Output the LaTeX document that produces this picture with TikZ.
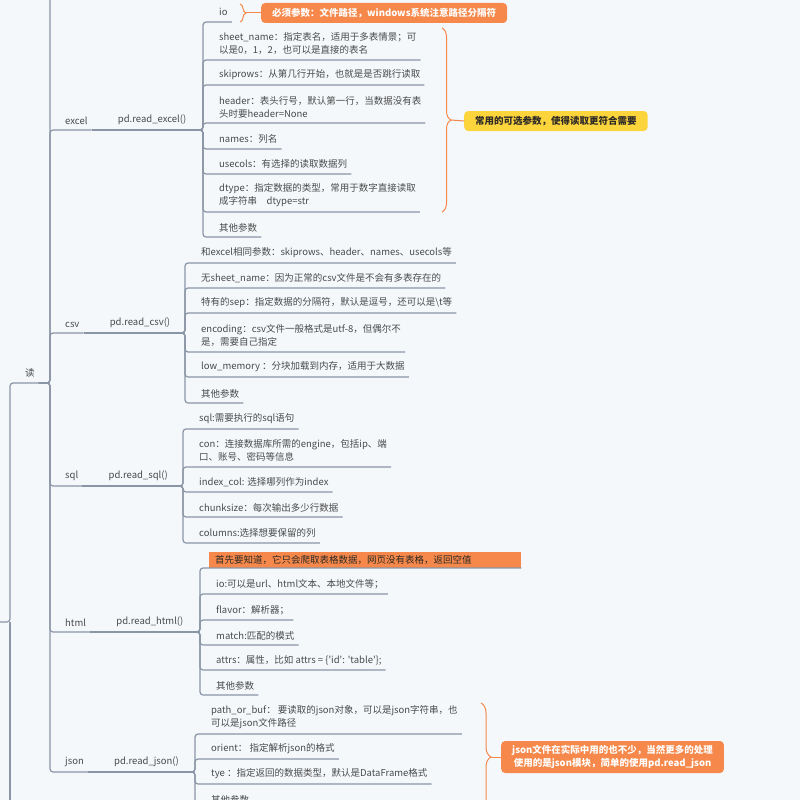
\documentclass[tikz,border=0pt]{standalone}
\usepackage{fontspec}
\setmainfont{Noto Sans CJK SC}
\usetikzlibrary{positioning,decorations.pathreplacing}

\definecolor{bgblue}{HTML}{F4F8FB}
\definecolor{linegray}{HTML}{8A95A5}
\definecolor{txtgray}{HTML}{4A4A4A}
\definecolor{notedark}{HTML}{2E2A26}
\definecolor{noteorange}{HTML}{F5884A}
\definecolor{noteyellow}{HTML}{FCD43C}

\begin{document}
\begin{tikzpicture}[%
          x=1pt, y=-1pt,
          link/.style={draw=linegray, line width=1.2pt, rounded corners=3pt},
          notelink/.style={draw=noteorange, line width=1pt},
          bracket/.style={draw=noteorange, line width=1pt, decorate,
                          decoration={brace, amplitude=#1}},
          topic/.style={anchor=south west, inner xsep=4pt, inner ysep=5pt,
                        align=left, text=txtgray,
                        font=\fontsize{9.5}{13}\selectfont},
          callout/.style={anchor=west, rounded corners=4pt, fill=noteorange,
                          text=white, align=center, inner xsep=11pt,
                          inner ysep=3pt,
                          font=\fontsize{9.5}{13}\selectfont\bfseries}]

  \useasboundingbox (0,0) rectangle (800,800);
  \fill[bgblue] (0,0) rectangle (800,800);
  \clip (0,0) rectangle (800,800);

  \coordinate (rootE) at (-5,622);
  \coordinate (vroot) at (10,0);
  \coordinate (offB) at (10,810);
  \coordinate (vtrunk) at (50,0);
  \coordinate (offT) at (50,-10);

  \coordinate (vexcel) at (203,0);
  \coordinate (vcsv) at (185,0);
  \coordinate (vsql) at (183,0);
  \coordinate (vhtml) at (200,0);
  \coordinate (vjson) at (195,0);

  \node[topic] (du) at (21,383) {读};

  % excel
  \node[topic] (excel) at (61,130) {excel};
  \node[topic, right=22pt of excel.south east, anchor=south west] (rexcel) {pd.read\_excel()};

  \node[topic, text depth=1.2pt] (io) at (215,22) {io};
  \node[topic] (sheetname) at (215,60) {sheet\_name：指定表名，适用于多表情景；可\\以是0，1，2，也可以是直接的表名};
  \node[topic] (skiprows) at (215,85) {skiprows：从第几行开始，也就是是否跳行读取};
  \node[topic] (header) at (215,123) {header：表头行号，默认第一行，当数据没有表\\头时要header=None};
  \node[topic] (names) at (215,149) {names：列名};
  \node[topic] (usecols) at (215,174) {usecols：有选择的读取数据列};
  \node[topic] (dtype) at (215,212) {dtype：指定数据的类型，常用于数字直接读取\\成字符串\quad dtype=str};
  \node[topic] (exother) at (215,237) {其他参数};

  % csv
  \node[topic] (csv) at (61,333) {csv};
  \node[topic, right=22pt of csv.south east, anchor=south west] (rcsv) {pd.read\_csv()};

  \node[topic] (csvsame) at (197,263) {和excel相同参数：skiprows、header、names、usecols等};
  \node[topic] (csvnosheet) at (197,288) {无sheet\_name：因为正常的csv文件是不会有多表存在的};
  \node[topic] (csvsep) at (197,313) {特有的sep：指定数据的分隔符，默认是逗号，还可以是\textbackslash t等};
  \node[topic] (csvenc) at (197,352) {encoding：csv文件一般格式是utf-8，但偶尔不\\是，需要自己指定};
  \node[topic] (csvlowmem) at (197,377) {low\_memory ：分块加载到内存，适用于大数据};
  \node[topic] (csvother) at (197,403) {其他参数};

  % sql
  \node[topic] (sql) at (61,486) {sql};
  \node[topic, right=22pt of sql.south east, anchor=south west] (rsql) {pd.read\_sql()};

  \node[topic] (sqlsql) at (195,429) {sql:需要执行的sql语句};
  \node[topic] (sqlcon) at (195,467) {con：连接数据库所需的engine，包括ip、端\\口、账号、密码等信息};
  \node[topic] (sqlindex) at (195,492) {index\_col: 选择哪列作为index};
  \node[topic] (sqlchunk) at (195,517) {chunksize：每次输出多少行数据};
  \node[topic] (sqlcols) at (195,543) {columns:选择想要保留的列};

  % html
  \node[topic] (html) at (61,632) {html};
  \node[topic, right=22pt of html.south east, anchor=south west] (rhtml) {pd.read\_html()};

  \node[topic, fill=noteorange, text=notedark, inner xsep=6pt, inner ysep=3.5pt,
        text width=300pt] (htmlnote) at (209,568) {首先要知道，它只会爬取表格数据，网页没有表格，返回空值};
  \node[topic] (htmlio) at (212,594) {io:可以是url、html文本、本地文件等；};
  \node[topic] (htmlflavor) at (212,620) {flavor：解析器；};
  \node[topic] (htmlmatch) at (212,645) {match:匹配的模式};
  \node[topic] (htmlattrs) at (212,670) {attrs：属性，比如 attrs = \{\textquotesingle id\textquotesingle: \textquotesingle table\textquotesingle\};};
  \node[topic] (htmlother) at (212,695) {其他参数};

  % json
  \node[topic] (json) at (61,772) {json};
  \node[topic, right=22pt of json.south east, anchor=south west] (rjson) {pd.read\_json()};

  \node[topic] (jsonpath) at (207,734) {path\_or\_buf： 要读取的json对象，可以是json字符串，也\\可以是json文件路径};
  \node[topic] (jsonorient) at (207,759) {orient： 指定解析json的格式};
  \node[topic] (jsontype) at (207,784) {tye ：指定返回的数据类型，默认是DataFrame格式};
  \node[topic] (jsonother) at (207,809) {其他参数};

  % notes
  \node[callout, minimum height=20pt] (ionote) at (261,13) {必须参数：文件路径，windows系统注意路径分隔符};
  \node[callout, fill=noteyellow, text=notedark, minimum height=20pt] (optnote) at (464,121) {常用的可选参数，使得读取更符合需要};
  \node[callout, minimum height=32pt] (jsonnote) at (501,757) {json文件在实际中用的也不少，当然更多的处理\\使用的是json模块，简单的使用pd.read\_json};

  \coordinate (iotip) at (246,13);
  \coordinate (opttip) at (451,120);
  \coordinate (jsontip) at (491,757);

  \draw[bracket=6pt] (240,4) -- (240,22);
  \draw[notelink] (iotip) -- (ionote.west);
  \draw[bracket=9pt] (442,28) -- (442,212);
  \draw[notelink] (opttip) -- (optnote.west);
  \draw[bracket=10pt] (481,703) -- (481,811);
  \draw[notelink] (jsontip) -- (jsonnote.west);

  % root and trunk
  \draw[link] (rootE) -- (rootE -| vroot) |- (du.south east);
  \draw[link] (rootE -| vroot) -- (offB);

  \draw[link] (du.south east) -- (du.south east -| vtrunk) -- (offT);
  \draw[link] (du.south east) -- (du.south east -| vtrunk) |- (excel.south east);
  \draw[link] (du.south east) -- (du.south east -| vtrunk) |- (csv.south east);
  \draw[link] (du.south east) -- (du.south east -| vtrunk) |- (sql.south east);
  \draw[link] (du.south east) -- (du.south east -| vtrunk) |- (html.south east);
  \draw[link] (du.south east) -- (du.south east -| vtrunk) |- (json.south east);

  \draw[link] (excel.south east) -- (rexcel.south east);
  \draw[link] (csv.south east) -- (rcsv.south east);
  \draw[link] (sql.south east) -- (rsql.south east);
  \draw[link] (html.south east) -- (rhtml.south east);
  \draw[link] (json.south east) -- (rjson.south east);

  % excel children
  \draw[link] (rexcel.south east) -- (rexcel.south east -| vexcel) |- (io.south east);
  \draw[link] (rexcel.south east) -- (rexcel.south east -| vexcel) |- (sheetname.south east);
  \draw[link] (rexcel.south east) -- (rexcel.south east -| vexcel) |- (skiprows.south east);
  \draw[link] (rexcel.south east) -- (rexcel.south east -| vexcel) |- (header.south east);
  \draw[link] (rexcel.south east) -- (rexcel.south east -| vexcel) |- (names.south east);
  \draw[link] (rexcel.south east) -- (rexcel.south east -| vexcel) |- (usecols.south east);
  \draw[link] (rexcel.south east) -- (rexcel.south east -| vexcel) |- (dtype.south east);
  \draw[link] (rexcel.south east) -- (rexcel.south east -| vexcel) |- (exother.south east);

  % csv children
  \draw[link] (rcsv.south east) -- (rcsv.south east -| vcsv) |- (csvsame.south east);
  \draw[link] (rcsv.south east) -- (rcsv.south east -| vcsv) |- (csvnosheet.south east);
  \draw[link] (rcsv.south east) -- (rcsv.south east -| vcsv) |- (csvsep.south east);
  \draw[link] (rcsv.south east) -- (rcsv.south east -| vcsv) |- (csvenc.south east);
  \draw[link] (rcsv.south east) -- (rcsv.south east -| vcsv) |- (csvlowmem.south east);
  \draw[link] (rcsv.south east) -- (rcsv.south east -| vcsv) |- (csvother.south east);

  % sql children
  \draw[link] (rsql.south east) -- (rsql.south east -| vsql) |- (sqlsql.south east);
  \draw[link] (rsql.south east) -- (rsql.south east -| vsql) |- (sqlcon.south east);
  \draw[link] (rsql.south east) -- (rsql.south east -| vsql) |- (sqlindex.south east);
  \draw[link] (rsql.south east) -- (rsql.south east -| vsql) |- (sqlchunk.south east);
  \draw[link] (rsql.south east) -- (rsql.south east -| vsql) |- (sqlcols.south east);

  % html children
  \draw[link] (rhtml.south east) -- (rhtml.south east -| vhtml) |- (htmlnote.south east);
  \draw[link] (rhtml.south east) -- (rhtml.south east -| vhtml) |- (htmlio.south east);
  \draw[link] (rhtml.south east) -- (rhtml.south east -| vhtml) |- (htmlflavor.south east);
  \draw[link] (rhtml.south east) -- (rhtml.south east -| vhtml) |- (htmlmatch.south east);
  \draw[link] (rhtml.south east) -- (rhtml.south east -| vhtml) |- (htmlattrs.south east);
  \draw[link] (rhtml.south east) -- (rhtml.south east -| vhtml) |- (htmlother.south east);

  % json children
  \draw[link] (rjson.south east) -- (rjson.south east -| vjson) |- (jsonpath.south east);
  \draw[link] (rjson.south east) -- (rjson.south east -| vjson) |- (jsonorient.south east);
  \draw[link] (rjson.south east) -- (rjson.south east -| vjson) |- (jsontype.south east);
  \draw[link] (rjson.south east) -- (rjson.south east -| vjson) |- (jsonother.south east);

\end{tikzpicture}
\end{document}
